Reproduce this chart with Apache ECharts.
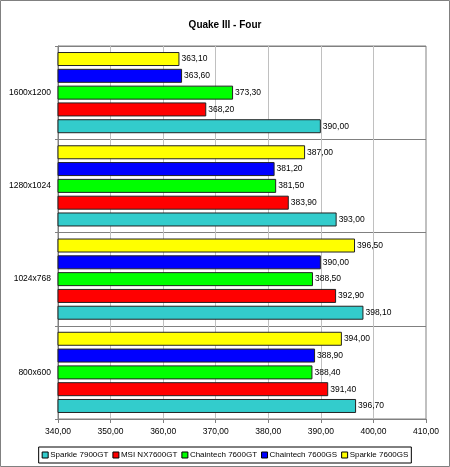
<!DOCTYPE html>
<html><head><meta charset="utf-8">
<script src="https://cdn.jsdelivr.net/npm/echarts@6/dist/echarts.min.js"></script>
<style>html,body{margin:0;padding:0;background:#fff}#c{width:450px;height:467px}</style>
</head><body><div id="c"></div>
<script>
const categories = ['800x600', '1024x768', '1280x1024', '1600x1200'];
const seriesNames = ['Sparkle 7900GT', 'MSI NX7600GT', 'Chaintech 7600GT', 'Chaintech 7600GS', 'Sparkle 7600GS'];
const sparkle7900GT = [396.70, 398.10, 393.00, 390.00];
const msiNX7600GT = [391.40, 392.90, 383.90, 368.20];
const chaintech7600GT = [388.40, 388.50, 381.50, 373.30];
const chaintech7600GS = [388.90, 390.00, 381.20, 363.60];
const sparkle7600GS = [394.00, 396.50, 387.00, 363.10];
const seriesColors = ['#33CCCC', '#FF0000', '#00FF00', '#0000FF', '#FFFF00'];
const allData = [sparkle7900GT, msiNX7600GT, chaintech7600GT, chaintech7600GS, sparkle7600GS];

const fmt = v => Number(v).toFixed(2).replace('.', ',');
const font = 'Liberation Sans, Arial, sans-serif';
const fs = 8.5;

const series = seriesNames.map((name, i) => ({
  name, type: 'bar', data: allData[i],
  barWidth: 14, barGap: '20%',
  itemStyle: {color: seriesColors[i], borderColor: '#222', borderWidth: 1},
  label: {show: true, position: 'right', distance: 2, formatter: p => fmt(p.value),
    fontFamily: font, fontSize: fs, color: '#000'}
})).reverse();

const chart = echarts.init(document.getElementById('c'), null, {renderer: 'canvas'});
chart.setOption({
  animation: false,
  backgroundColor: '#fff',
  title: {
    text: 'Quake III - Four', left: 'center', top: 15,
    textStyle: {fontFamily: font, fontSize: 10, fontWeight: 'bold', color: '#000'}
  },
  graphic: [{
    type: 'rect', shape: {x: 0.5, y: 0.5, width: 449, height: 466},
    style: {fill: 'none', stroke: '#808080', lineWidth: 1}, silent: true
  }],
  legend: {
    bottom: 4, left: 'center', width: 440,
    data: seriesNames,
    icon: 'rect', itemWidth: 6, itemHeight: 6, itemGap: 4,
    borderColor: '#000', borderWidth: 1, padding: [4, 3],
    textStyle: {fontFamily: font, fontSize: 8, color: '#000', padding: [0, 0, 0, -3]},
    itemStyle: {borderColor: '#000', borderWidth: 1}
  },
  grid: {
    left: 58, right: 24, top: 46, bottom: 48,
    outerBoundsMode: 'none', containLabel: false,
    show: true, borderColor: '#808080', borderWidth: 1, backgroundColor: '#fff'
  },
  xAxis: {
    type: 'value', min: 340, max: 410, interval: 10,
    axisLine: {show: true, lineStyle: {color: '#808080'}},
    axisTick: {show: true, length: 4, lineStyle: {color: '#808080'}},
    axisLabel: {formatter: fmt, fontFamily: font, fontSize: fs, color: '#000', margin: 8},
    splitLine: {show: true, lineStyle: {color: '#C0C0C0'}}
  },
  yAxis: {
    type: 'category', data: categories,
    axisLine: {show: true, lineStyle: {color: '#808080'}},
    axisTick: {show: true, length: 3, lineStyle: {color: '#808080'}},
    axisLabel: {fontFamily: font, fontSize: fs, color: '#000', margin: 7},
    splitLine: {show: true, lineStyle: {color: '#808080'}}
  },
  series
});
</script></body></html>
